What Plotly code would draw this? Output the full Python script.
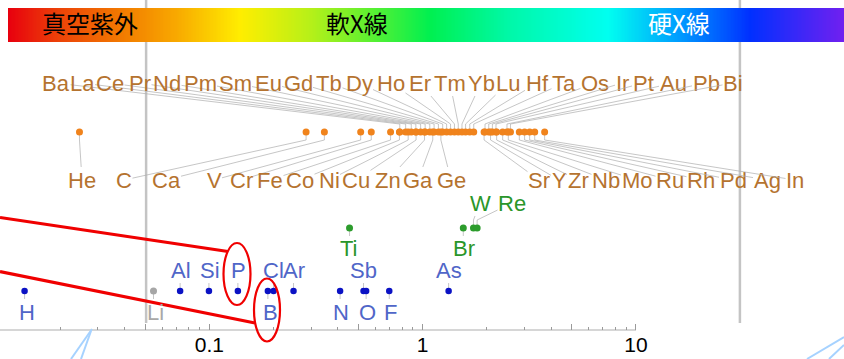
import math
import plotly.graph_objects as go

# ---------------- data: absorption-edge energies (keV) ----------------
orange_el = ["He", "C", "Ca", "V", "Cr", "Fe", "Co", "Ni", "Cu", "Zn", "Ga", "Ge",
             "Ba", "La", "Ce", "Pr", "Nd", "Pm", "Sm", "Eu", "Gd", "Tb", "Dy", "Ho",
             "Er", "Tm", "Yb", "Lu", "Hf", "Ta", "Os", "Ir", "Pt", "Au", "Pb", "Bi",
             "Sr", "Y", "Zr", "Nb", "Mo", "Ru", "Rh", "Pd", "Ag", "In"]
orange_E = [0.0246, 0.284, 0.346, 0.512, 0.574, 0.707, 0.778, 0.855, 0.931, 1.020, 1.115, 1.217,
            0.781, 0.832, 0.884, 0.929, 0.978, 1.027, 1.080, 1.131, 1.185, 1.241, 1.295, 1.351,
            1.409, 1.468, 1.528, 1.589, 1.662, 1.735, 1.960, 2.040, 2.122, 2.206, 2.484, 2.580,
            1.940, 2.080, 2.222, 2.371, 2.520, 2.838, 3.004, 3.173, 3.351, 3.730]
green_el = ["Ti", "Br", "W", "Re"]
green_E = [0.454, 1.550, 1.73, 1.80]
blue_el = ["H", "Al", "Si", "P", "B", "Cl", "Ar", "N", "Sb", "O", "F", "As"]
blue_E = [0.0136, 0.0729, 0.0995, 0.136, 0.188, 0.200, 0.248, 0.410, 0.528, 0.543, 0.697, 1.323]
gray_el = ["Li"]
gray_E = [0.0547]

tick_vals = [0.05, 0.1, 0.5, 1, 5, 10]
tick_text = ["", "0.1", "", "1", "", "10"]
minor_vals = [0.02, 0.03, 0.04, 0.06, 0.07, 0.08, 0.09,
              0.2, 0.3, 0.4, 0.6, 0.7, 0.8, 0.9,
              2, 3, 4, 6, 7, 8, 9]
band_labels = ["真空紫外", "軟X線", "硬X線"]
limit_lines = [0.0505, 30.7]

# ---------------- layout / style ----------------
W, H = 844, 359
L0, L1 = -1.9817, 1.9752          # log10 range of x axis
ROW = {"orange": 132, "green": 228, "blue": 291}
AXIS_Y = 330
FONT = "Liberation Sans, Arial, Helvetica, sans-serif"

COL = {
    "orange": ("#F0831C", "#B5732F"),
    "green": ("#2C9C2C", "#2A962A"),
    "blue": ("#0B12C4", "#5066C8"),
    "gray": ("#A6A6A6", "#A8A8A8"),
}

# label positions (pixel x, pixel y)
LAB = {
    # top orange row
    "Ba": (56, 83), "La": (82, 83), "Ce": (110, 83), "Pr": (140, 83), "Nd": (167, 83),
    "Pm": (200, 83), "Sm": (235, 83), "Eu": (268, 83), "Gd": (298, 83), "Tb": (329, 83),
    "Dy": (359, 83), "Ho": (391, 83), "Er": (420, 83), "Tm": (450, 83), "Yb": (481, 83),
    "Lu": (508, 83), "Hf": (537, 83), "Ta": (564, 83), "Os": (595, 83), "Ir": (622, 83),
    "Pt": (643, 83), "Au": (673, 83), "Pb": (706, 83), "Bi": (733, 83),
    # bottom orange row
    "He": (82, 180), "C": (124, 180), "Ca": (166, 180), "V": (214, 180), "Cr": (241, 180),
    "Fe": (270, 180), "Co": (300, 180), "Ni": (329, 180), "Cu": (356, 180), "Zn": (388, 180),
    "Ga": (418, 180), "Ge": (451, 180), "Sr": (539, 180), "Y": (559, 180), "Zr": (578, 180),
    "Nb": (606, 180), "Mo": (637, 180), "Ru": (670, 180), "Rh": (701, 180), "Pd": (733, 180),
    "Ag": (767, 180), "In": (795, 180),
    # green
    "W": (480, 203), "Re": (512, 203), "Ti": (349, 248), "Br": (464, 248),
    # blue
    "Al": (181, 270), "Si": (210, 270), "P": (238, 270), "Cl": (273, 270), "Ar": (294, 270),
    "Sb": (363, 270), "As": (449, 270),
    "H": (27, 312), "Li": (155, 312), "B": (270, 312), "N": (341, 312), "O": (367, 312),
    "F": (390, 312),
}


def px2log(px):
    return L0 + px / W * (L1 - L0)


fig = go.Figure()

groups = [
    ("orange", orange_el, orange_E, ROW["orange"]),
    ("green", green_el, green_E, ROW["green"]),
    ("blue", blue_el, blue_E, ROW["blue"]),
    ("gray", gray_el, gray_E, ROW["blue"]),
]

annotations = []
stub_x, stub_y = [], []
for key, els, Es, ry in groups:
    dot, txt = COL[key]
    for el, e in zip(els, Es):
        lx, ly = LAB[el]
        up = ly < ry
        head_y = ry - 8 if up else ry + 8
        stub_x += [e, e, None]
        stub_y += [ry, head_y, None]
        annotations.append(dict(
            x=math.log10(e), y=head_y, xref="x", yref="y",
            ax=px2log(lx), ay=ly, axref="x", ayref="y",
            text=el, showarrow=True, arrowhead=0, arrowwidth=0.7,
            arrowcolor="#ADADAD", standoff=0, startstandoff=0,
            font=dict(family=FONT, size=22, color=txt),
            borderpad=0,
        ))

fig.add_trace(go.Scatter(x=stub_x, y=stub_y, mode="lines",
                         line=dict(color="#ADADAD", width=0.7),
                         hoverinfo="skip", showlegend=False))

for key, els, Es, ry in groups:
    dot, txt = COL[key]
    fig.add_trace(go.Scatter(
        x=Es, y=[ry] * len(Es), mode="markers", text=els,
        marker=dict(color=dot, size=7 if key != "blue" else 6.5, line=dict(width=0)),
        hoverinfo="text", showlegend=False))

# gradient bar (heatmap on its own axes)
N = 600
bar_scale = [
    [0.0, "#E8000E"], [0.06, "#EC4208"], [0.135, "#F27A00"], [0.2, "#F8A800"],
    [0.278, "#FFEE00"], [0.36, "#B8F018"], [0.43, "#60F030"], [0.505, "#00F050"],
    [0.6, "#00F8A8"], [0.718, "#00FFF0"], [0.8, "#00A0FF"], [0.888, "#0030FF"],
    [1.0, "#7020F0"],
]
fig.add_trace(go.Heatmap(z=[list(range(N))], x=list(range(N)), y=[0],
                         colorscale=bar_scale, showscale=False, hoverinfo="skip",
                         xaxis="x2", yaxis="y2"))

band_x = [90, 357, 679]
band_col = ["black", "black", "white"]
for t, bx, bc in zip(band_labels, band_x, band_col):
    annotations.append(dict(x=bx / W, y=22, xref="paper", yref="y", text=t,
                            showarrow=False, xanchor="center", yanchor="middle",
                            font=dict(family="Noto Sans CJK JP", size=24, color=bc)))

shapes = []
# vertical limit lines (split around the colour bar)
for v in limit_lines:
    for y0, y1 in [(0, 8), (42, 323)]:
        shapes.append(dict(type="line", xref="x", yref="y", x0=v, x1=v, y0=y0, y1=y1,
                           line=dict(color="#C4C4C4", width=2.5), layer="below"))
# axis line up to 10
shapes.append(dict(type="line", xref="x", yref="y", x0=10 ** L0, x1=10, y0=AXIS_Y, y1=AXIS_Y,
                   line=dict(color="#C8C8C8", width=1.5), layer="below"))
# red callouts
red = "#F00000"
shapes += [
    dict(type="line", xref="paper", yref="y", x0=0, y0=217.5, x1=228 / W, y1=251.5,
         line=dict(color=red, width=3.2)),
    dict(type="line", xref="paper", yref="y", x0=0, y0=271.5, x1=255 / W, y1=323,
         line=dict(color=red, width=3.2)),
    dict(type="circle", xref="paper", yref="y", x0=223.5 / W, x1=250.5 / W, y0=243, y1=305,
         line=dict(color=red, width=2.2)),
    dict(type="circle", xref="paper", yref="y", x0=254 / W, x1=280 / W, y0=278.5, y1=341.5,
         line=dict(color=red, width=2.2)),
]
# light-blue pointer fragments
lb = "#A6D2FF"
shapes += [
    dict(type="line", xref="paper", yref="y", x0=92 / W, y0=329, x1=71 / W, y1=359,
         line=dict(color=lb, width=2)),
    dict(type="line", xref="paper", yref="y", x0=91 / W, y0=331, x1=81 / W, y1=359,
         line=dict(color=lb, width=2)),
    dict(type="line", xref="paper", yref="y", x0=807 / W, y0=359, x1=844 / W, y1=337,
         line=dict(color=lb, width=2)),
    dict(type="line", xref="paper", yref="y", x0=829 / W, y0=359, x1=844 / W, y1=345,
         line=dict(color=lb, width=2)),
]

fig.update_layout(
    width=W, height=H, autosize=False,
    margin=dict(l=0, r=0, t=0, b=0, pad=0),
    paper_bgcolor="white", plot_bgcolor="white",
    showlegend=False,
    xaxis=dict(type="log", range=[L0, L1], domain=[0, 1], anchor="free",
               position=(H - AXIS_Y) / H,
               showgrid=False, zeroline=False, showline=False,
               tickvals=tick_vals, ticktext=tick_text, ticks="inside",
               ticklen=6, tickwidth=1, tickcolor="#9A9A9A",
               tickfont=dict(family=FONT, size=21, color="black"),
               minor=dict(tickvals=minor_vals, ticks="inside", ticklen=3.5,
                          tickwidth=1, tickcolor="#9A9A9A", showgrid=False)),
    yaxis=dict(range=[H, 0], domain=[0, 1], visible=False, fixedrange=True),
    xaxis2=dict(domain=[8 / W, 1], range=[-0.5, N - 0.5], visible=False, anchor="y2"),
    yaxis2=dict(domain=[1 - 42 / H, 1 - 8 / H], range=[-0.5, 0.5], visible=False,
                anchor="x2"),
    annotations=annotations,
    shapes=shapes,
)

fig.write_html("out.html", config={"displayModeBar": False},
               post_script="document.body.style.margin='0';document.body.style.overflow='hidden';")
